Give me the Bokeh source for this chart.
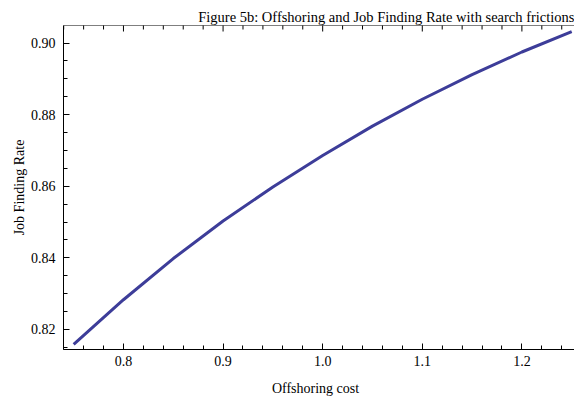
import math
from bokeh.plotting import figure
from bokeh.models import Range1d, LinearAxis, FixedTicker, Span
from bokeh.embed import file_html
from bokeh.resources import INLINE

# Data
offshoring_cost = [0.75, 0.80, 0.85, 0.90, 0.95, 1.00, 1.05, 1.10, 1.15, 1.20, 1.25]
job_finding_rate = [0.8158, 0.8283, 0.8398, 0.8503, 0.8598, 0.8686, 0.8768,
                    0.8843, 0.8912, 0.8975, 0.9032]

x_major = [0.8, 0.9, 1.0, 1.1, 1.2]
x_labels = ["0.8", "0.9", "1.0", "1.1", "1.2"]
x_minor = [0.74, 0.76, 0.78, 0.82, 0.84, 0.86, 0.88, 0.92, 0.94, 0.96, 0.98,
           1.02, 1.04, 1.06, 1.08, 1.12, 1.14, 1.16, 1.18, 1.22, 1.24]
y_major = [0.82, 0.84, 0.86, 0.88, 0.90]
y_labels = ["0.82", "0.84", "0.86", "0.88", "0.90"]
y_minor = [0.815, 0.825, 0.83, 0.835, 0.845, 0.85, 0.855, 0.865, 0.87, 0.875,
           0.885, 0.89, 0.895]

title_text = "Figure 5b: Offshoring and Job Finding Rate with search frictions"
x_title = "Offshoring   cost"
y_title = "Job Finding Rate"

X_LO, X_HI = 0.7398, 1.2528
Y_LO, Y_HI = 0.8144, 0.9049

FONT = "Liberation Serif"

p = figure(width=574, height=401, output_backend="svg", toolbar_location=None,
           x_range=Range1d(X_LO, X_HI), y_range=Range1d(Y_LO, Y_HI),
           x_axis_location=None, y_axis_location=None,
           min_border_left=63, min_border_right=0, min_border_top=25,
           min_border_bottom=52)
p.outline_line_color = None
p.xgrid.visible = False
p.ygrid.visible = False
p.background_fill_color = "white"
p.border_fill_color = "white"

p.title.text = title_text
p.title.text_font = FONT
p.title.text_font_size = "14.5px"
p.title.text_font_style = "normal"
p.title.text_color = "black"
p.title.align = "right"
p.title.offset = 0
p.title.standoff = 2
p.title.vertical_align = "bottom"

def style_axis(ax):
    ax.axis_line_color = "black"
    ax.axis_line_width = 1
    ax.major_tick_in = 6
    ax.major_tick_out = 0
    ax.minor_tick_in = 4
    ax.minor_tick_out = 0
    ax.major_tick_line_color = "black"
    ax.minor_tick_line_color = "black"
    ax.major_label_text_font = FONT
    ax.major_label_text_color = "black"
    ax.major_label_text_font_size = "14px"
    ax.axis_label_text_font = FONT
    ax.axis_label_text_font_style = "normal"
    ax.axis_label_text_color = "black"
    ax.axis_label_text_font_size = "14px"

xb = LinearAxis(ticker=FixedTicker(ticks=x_major, minor_ticks=x_minor),
                major_label_overrides=dict(zip(x_major, x_labels)))
style_axis(xb)
xb.major_label_standoff = 6
xb.axis_label = x_title
xb.axis_label_standoff = 12
p.add_layout(xb, "below")

yl = LinearAxis(ticker=FixedTicker(ticks=y_major, minor_ticks=y_minor),
                major_label_overrides=dict(zip(y_major, y_labels)))
style_axis(yl)
yl.major_label_standoff = 8
yl.axis_label = y_title
yl.axis_label_standoff = 1
p.add_layout(yl, "left")

# top frame line with inward ticks
p.add_layout(Span(location=Y_HI, dimension="width", line_color="black", line_width=1))
p.scatter(x_major, [Y_HI] * len(x_major), marker="dash", angle=math.pi / 2,
          size=12, line_color="black", line_width=1)
p.scatter(x_minor, [Y_HI] * len(x_minor), marker="dash", angle=math.pi / 2,
          size=8, line_color="black", line_width=1)

p.line(offshoring_cost, job_finding_rate, line_color="#3d3d99", line_width=3)

open("out.html", "w").write(file_html(p, INLINE))
